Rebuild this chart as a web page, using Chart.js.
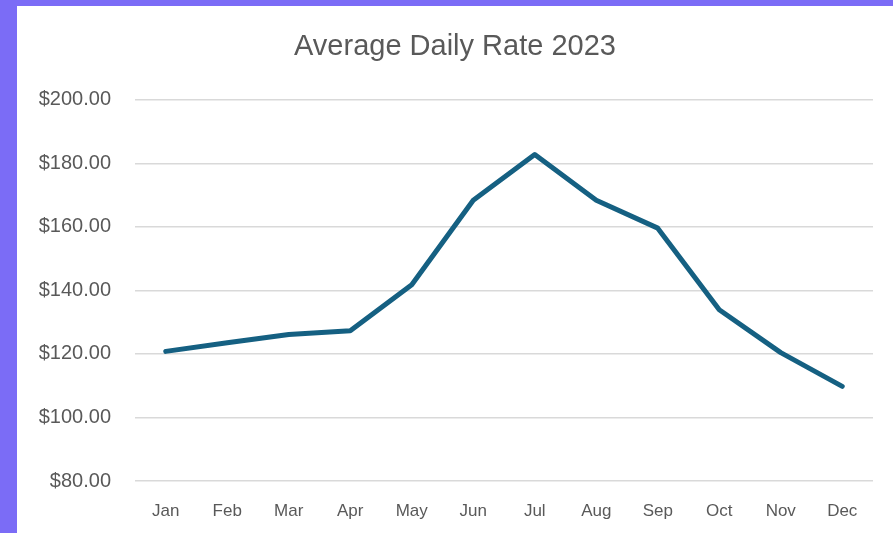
<!DOCTYPE html>
<html lang="en">
<head>
  <meta charset="UTF-8">
  <title>Average Daily Rate 2023</title>
  <script src="https://cdn.jsdelivr.net/npm/chart.js"></script>
  <style>
    html, body { margin: 0; padding: 0; }
    body { width: 893px; height: 533px; background: #7b6cf6; overflow: hidden; }
    .panel { position: absolute; left: 17px; top: 6px; width: 876px; height: 527px; background: #ffffff; }
    #adrChart { position: absolute; left: 20px; top: 0; }
  </style>
</head>
<body>
  <div class="panel">
    <canvas id="adrChart" width="856" height="527"></canvas>
  </div>

  <script>
    // data
    const months = ['Jan', 'Feb', 'Mar', 'Apr', 'May', 'Jun', 'Jul', 'Aug', 'Sep', 'Oct', 'Nov', 'Dec'];
    const dailyRate = [120.8, 123.5, 126.1, 127.3, 141.8, 168.4, 182.8, 168.4, 159.6, 133.9, 120.4, 109.8];
    const yTicks = [80, 100, 120, 140, 160, 180, 200];

    const labelColor = '#595959';
    const fontFamily = "'Liberation Sans', Arial, sans-serif";

    const ctx = document.getElementById('adrChart').getContext('2d');
    new Chart(ctx, {
      type: 'line',
      data: {
        labels: months,
        datasets: [{
          label: 'Average Daily Rate',
          data: dailyRate,
          borderColor: '#156082',
          borderWidth: 5,
          borderJoinStyle: 'round',
          borderCapStyle: 'round',
          pointRadius: 0,
          tension: 0,
          fill: false
        }]
      },
      options: {
        responsive: false,
        animation: false,
        layout: { padding: { left: 0, right: 20, top: 0, bottom: 0 } },
        plugins: {
          legend: { display: false },
          tooltip: { enabled: false },
          title: {
            display: true,
            text: 'Average Daily Rate 2023',
            color: labelColor,
            font: { family: fontFamily, size: 29, weight: 'normal' },
            padding: { top: 24, bottom: 35 }
          }
        },
        scales: {
          y: {
            min: yTicks[0],
            max: yTicks[yTicks.length - 1],
            afterFit: function(scale) { scale.width = 98; },
            afterBuildTicks: function(scale) {
              scale.ticks = yTicks.map(v => ({ value: v }));
            },
            ticks: {
              padding: 24,
              color: labelColor,
              font: { family: fontFamily, size: 20 },
              callback: function(value) { return '$' + value.toFixed(2); }
            },
            grid: { color: '#d9d9d9', lineWidth: 1.5, drawTicks: false },
            border: { display: false }
          },
          x: {
            offset: true,
            afterFit: function(scale) { scale.height = 52; },
            ticks: {
              padding: 20,
              color: labelColor,
              font: { family: fontFamily, size: 17 }
            },
            grid: { display: false, drawTicks: false },
            border: { display: false }
          }
        }
      }
    });
  </script>
</body>
</html>
